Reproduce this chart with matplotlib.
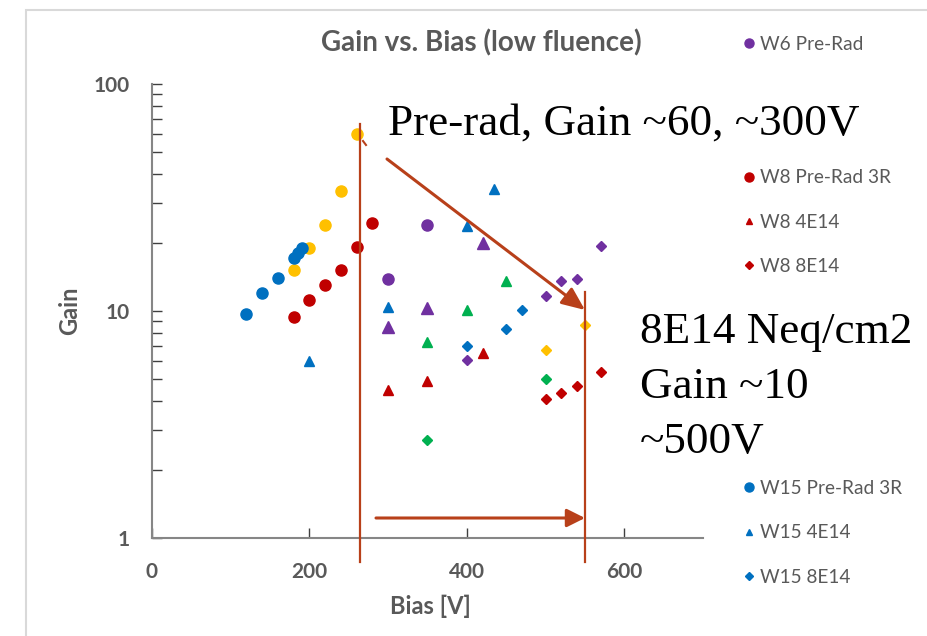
import matplotlib
matplotlib.use("Agg")
import matplotlib.pyplot as plt
from matplotlib.lines import Line2D
from matplotlib.patches import Rectangle, FancyArrowPatch

plt.rcParams['font.family'] = ['Lato', 'DejaVu Sans']

# --- data ---
w6_pre_bias = [300, 350]
w6_pre_gain = [13.9, 24.0]
w6_4e14_bias = [300, 350, 420]
w6_4e14_gain = [8.5, 10.3, 20.0]
w6_8e14_bias = [400, 500, 520, 540, 570]
w6_8e14_gain = [6.1, 11.6, 13.6, 13.9, 19.4]

w8_pre_bias = [180, 200, 220, 240, 260, 280]
w8_pre_gain = [9.4, 11.2, 13.0, 15.2, 19.1, 24.4]
w8_4e14_bias = [300, 350, 420]
w8_4e14_gain = [4.5, 4.9, 6.5]
w8_8e14_bias = [500, 520, 540, 570]
w8_8e14_gain = [4.1, 4.35, 4.65, 5.4]

yel_pre_bias = [180, 200, 220, 240, 260]
yel_pre_gain = [15.2, 19.0, 24.0, 33.8, 60.4]
yel_8e14_bias = [500, 550]
yel_8e14_gain = [6.7, 8.7]
grn_4e14_bias = [350, 400, 450]
grn_4e14_gain = [7.3, 10.1, 13.6]
grn_8e14_bias = [350, 500]
grn_8e14_gain = [2.7, 5.0]

w15_pre_bias = [120, 140, 160, 180, 185, 190]
w15_pre_gain = [9.7, 12.0, 14.0, 17.2, 18.1, 18.9]
w15_4e14_bias = [200, 300, 400, 435]
w15_4e14_gain = [6.0, 10.4, 23.7, 34.4]
w15_8e14_bias = [400, 450, 470]
w15_8e14_gain = [7.0, 8.3, 10.1]

purple = '#7030A0'
red = '#C00000'
yellow = '#FFC000'
green = '#00B050'
blue = '#0070C0'
grey = '#595959'
ann = '#B8401A'

W, H = 928, 636
fig = plt.figure(figsize=(W / 100, H / 100), dpi=100)
fig.patch.set_facecolor('white')


def px(x, y):
    return (x / W, 1 - y / H)


ax = fig.add_axes([152 / W, 1 - 538 / H, 551 / W, 454 / H])

# circles, triangles, diamonds
ax.plot(w6_pre_bias, w6_pre_gain, 'o', color=purple, ms=8, ls='none')
ax.plot(w6_4e14_bias, w6_4e14_gain, '^', color=purple, ms=8.5, ls='none')
ax.plot(w6_8e14_bias, w6_8e14_gain, 'D', color=purple, ms=5.5, ls='none')
ax.plot(yel_pre_bias, yel_pre_gain, 'o', color=yellow, ms=8, ls='none')
ax.plot(yel_8e14_bias, yel_8e14_gain, 'D', color=yellow, ms=5.5, ls='none')
ax.plot(grn_4e14_bias, grn_4e14_gain, '^', color=green, ms=7, ls='none')
ax.plot(grn_8e14_bias, grn_8e14_gain, 'D', color=green, ms=5.5, ls='none')
ax.plot(w8_pre_bias, w8_pre_gain, 'o', color=red, ms=8, ls='none')
ax.plot(w8_4e14_bias, w8_4e14_gain, '^', color=red, ms=7, ls='none')
ax.plot(w8_8e14_bias, w8_8e14_gain, 'D', color=red, ms=5.5, ls='none')
ax.plot(w15_pre_bias, w15_pre_gain, 'o', color=blue, ms=8, ls='none')
ax.plot(w15_4e14_bias, w15_4e14_gain, '^', color=blue, ms=7, ls='none')
ax.plot(w15_8e14_bias, w15_8e14_gain, 'D', color=blue, ms=5.5, ls='none')

ax.set_yscale('log')
ax.set_ylim(1, 100)
ax.set_xlim(0, 700)
ax.set_xticks([0, 200, 400, 600])
ax.set_yticks([1, 10, 100])
ax.set_yticklabels(['1', '10', '100'])
ax.tick_params(axis='both', direction='in', colors='#404040', labelcolor=grey,
               labelsize=15, length=7, width=1)
ax.tick_params(axis='x', pad=17)
ax.tick_params(axis='y', pad=16)
ax.tick_params(axis='y', which='minor', direction='in', length=7, width=1, colors='#404040')
for lbl in ax.get_xticklabels() + ax.get_yticklabels():
    lbl.set_fontweight('bold')
for s in ['top', 'right']:
    ax.spines[s].set_visible(False)
for s in ['left', 'bottom']:
    ax.spines[s].set_color('#868686')
    ax.spines[s].set_linewidth(1.5)

ax.set_title('Gain vs. Bias (low fluence)', fontsize=20, fontweight='bold',
             color=grey, x=(481 - 152) / 551, y=(538 - 51) / 454, pad=0)
ax.set_xlabel('Bias [V]', fontsize=17, fontweight='bold', color=grey)
ax.xaxis.set_label_coords((430 - 152) / 551, (538 - 595) / 454)
ax.set_ylabel('Gain', fontsize=17, fontweight='bold', color=grey)
ax.yaxis.set_label_coords((70 - 152) / 551, 0.5)
ax.yaxis.label.set_va('center')

# legend (rows hidden behind annotations left blank)
blank = Line2D([], [], ls='none', marker='')
handles = [
    Line2D([], [], ls='none', marker='o', color=purple, ms=6.5),
    blank, blank,
    Line2D([], [], ls='none', marker='o', color=red, ms=6.5),
    Line2D([], [], ls='none', marker='^', color=red, ms=5),
    Line2D([], [], ls='none', marker='D', color=red, ms=4),
    blank, blank, blank, blank,
    Line2D([], [], ls='none', marker='o', color=blue, ms=6.5),
    Line2D([], [], ls='none', marker='^', color=blue, ms=5),
    Line2D([], [], ls='none', marker='D', color=blue, ms=4),
]
labels = ['W6 Pre-Rad', ' ', ' ', 'W8 Pre-Rad 3R', 'W8 4E14', 'W8 8E14',
          ' ', ' ', ' ', ' ', 'W15 Pre-Rad 3R', 'W15 4E14', 'W15 8E14']
fig.legend(handles, labels, loc='upper left', bbox_to_anchor=px(741, 36),
           frameon=False, fontsize=13.7, labelcolor=grey, handlelength=0.8,
           handletextpad=0.2, labelspacing=1.44, borderpad=0, borderaxespad=0)

# outer light border
fig.add_artist(Rectangle(px(26, 700), 1.2, 1 - 10 / H - (1 - 700 / H),
                         transform=fig.transFigure, fill=False,
                         ec='#D9D9D9', lw=1.5))

# annotations
fig.add_artist(Line2D([px(360, 0)[0]] * 2, [px(0, 124)[1], px(0, 562)[1]],
                      transform=fig.transFigure, color=ann, lw=1.6))
fig.add_artist(Line2D([px(585, 0)[0]] * 2, [px(0, 292)[1], px(0, 562)[1]],
                      transform=fig.transFigure, color=ann, lw=1.6))
fig.add_artist(Line2D([px(363, 0)[0], px(366, 0)[0]], [px(0, 141)[1], px(0, 145)[1]],
                      transform=fig.transFigure, color=ann, lw=1.5))
fig.add_artist(FancyArrowPatch(px(387, 159), px(585, 310), transform=fig.transFigure,
                               arrowstyle='-|>,head_length=1.4,head_width=0.6',
                               mutation_scale=10, color=ann, lw=2.2,
                               shrinkA=0, shrinkB=0))
fig.add_artist(FancyArrowPatch(px(376, 518), px(585, 518), transform=fig.transFigure,
                               arrowstyle='-|>,head_length=1.1,head_width=0.55',
                               mutation_scale=10, color=ann, lw=2.2,
                               shrinkA=0, shrinkB=0))

serif = ['Liberation Serif', 'DejaVu Serif']
fig.text(*px(388, 135), 'Pre-rad, Gain ~60, ~300V', family=serif, fontsize=32.5,
         color='black', va='baseline')
for txt, yb in [('8E14 Neq/cm2', 343), ('Gain ~10', 398), ('~500V', 453)]:
    fig.text(*px(640, yb), txt, family=serif, fontsize=32.5, color='black', va='baseline')

fig.savefig('out.png', dpi=100)
